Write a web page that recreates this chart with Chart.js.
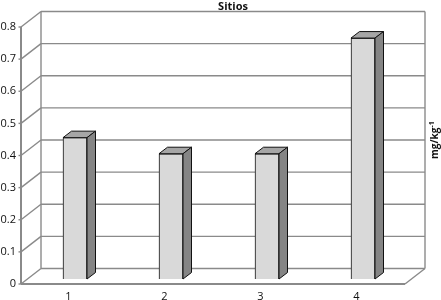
<!DOCTYPE html>
<html>
<head>
<meta charset="utf-8">
<style>
  html, body { margin: 0; padding: 0; background: #fff; }
  canvas { display: block; }
</style>
<script src="https://cdn.jsdelivr.net/npm/chart.js@4/dist/chart.umd.min.js"></script>
</head>
<body>
<canvas id="chart" width="441" height="300"></canvas>
<script>
const sitios = ["1", "2", "3", "4"];
const valores = [0.44, 0.39, 0.39, 0.75];
const yTicks = [0, 0.1, 0.2, 0.3, 0.4, 0.5, 0.6, 0.7, 0.8];

const gridColor = "#8a8a8a";
const fontName = "'Open Sans', 'Noto Sans', sans-serif";

// Desplazamiento de los planos respecto al plano de las barras
const front = { x: -6, y: 5 };
const back = { x: 14, y: -10.5 };
const barDepth = { x: 8.5, y: -6.5 };

const line = (ctx, x1, y1, x2, y2) => {
  ctx.beginPath();
  ctx.moveTo(x1, y1);
  ctx.lineTo(x2, y2);
  ctx.stroke();
};

const poly = (ctx, pts, fill) => {
  ctx.beginPath();
  pts.forEach((p, i) => (i ? ctx.lineTo(p[0], p[1]) : ctx.moveTo(p[0], p[1])));
  ctx.closePath();
  ctx.fillStyle = fill;
  ctx.fill();
  ctx.stroke();
};

// Caja 3D: paredes y rejilla, a partir de las escalas
const wallsPlugin = {
  id: "walls",
  afterLayout(chart) {
    chart.titleBlock.left += 27.5;
    chart.titleBlock.right += 27.5;
  },
  beforeDatasetsDraw(chart) {
    const { ctx, chartArea: area, scales: { y } } = chart;
    const fl = area.left + front.x, fr = area.right + front.x;
    const bl = area.left + back.x, br = area.right + back.x;
    ctx.save();
    ctx.strokeStyle = gridColor;
    ctx.lineWidth = 1.4;
    yTicks.forEach((v) => {
      const py = y.getPixelForValue(v);
      const fy = py + front.y, by = py + back.y;
      line(ctx, fl - 2.5, fy, fl, fy);
      line(ctx, fl, fy, bl, by);
      line(ctx, bl, by, br, by);
    });
    const y0 = y.getPixelForValue(0), y8 = y.getPixelForValue(0.8);
    line(ctx, bl, y8 + back.y, bl, y0 + back.y);
    line(ctx, br, y8 + back.y, br, y0 + back.y);
    ctx.lineWidth = 2;
    line(ctx, fl, y8 + front.y, fl, y0 + front.y);
    line(ctx, fl, y0 + front.y, fr, y0 + front.y);
    ctx.lineWidth = 1.4;
    line(ctx, fr, y0 + front.y, br, y0 + back.y);
    ctx.restore();
  },
  // Cara superior y lateral de cada barra, y rótulo del eje derecho
  afterDatasetsDraw(chart) {
    const { ctx } = chart;
    ctx.save();
    ctx.strokeStyle = "#111";
    ctx.lineWidth = 1;
    ctx.lineJoin = "round";
    chart.getDatasetMeta(0).data.forEach((bar) => {
      const l = bar.x - bar.width / 2, r = bar.x + bar.width / 2;
      const dx = barDepth.x, dy = barDepth.y;
      poly(ctx, [[l, bar.y], [l + dx, bar.y + dy], [r + dx, bar.y + dy], [r, bar.y]], "#a6a6a6");
      poly(ctx, [[r, bar.y], [r + dx, bar.y + dy], [r + dx, bar.base + dy], [r, bar.base]], "#858585");
    });
    ctx.restore();

    ctx.save();
    ctx.translate(438, 159);
    ctx.rotate(-Math.PI / 2);
    ctx.fillStyle = "#111";
    ctx.textBaseline = "alphabetic";
    ctx.font = `bold 10px ${fontName}`;
    ctx.fillText("mg/kg", 0, 0);
    const w = ctx.measureText("mg/kg").width;
    ctx.font = `bold 7px ${fontName}`;
    ctx.fillText("-1", w, -4);
    ctx.restore();
  },
};

new Chart(document.getElementById("chart"), {
  type: "bar",
  data: {
    labels: sitios,
    datasets: [{
      data: valores,
      backgroundColor: "#d9d9d9",
      borderColor: "#111",
      borderWidth: 1,
      barThickness: 24,
    }],
  },
  options: {
    responsive: false,
    animation: false,
    layout: { padding: { right: 30 } },
    plugins: {
      legend: { display: false },
      tooltip: { enabled: false },
      title: {
        display: true,
        text: "Sitios",
        color: "#111",
        font: { family: fontName, size: 11, weight: "bold" },
        padding: { top: 0, bottom: 8.8 },
      },
    },
    scales: {
      x: {
        grid: { display: false },
        border: { display: false },
        ticks: { color: "#111", font: { family: fontName, size: 11 }, labelOffset: -6.5, padding: 3, maxRotation: 0 },
        afterFit: (s) => { s.height = 21; },
      },
      y: {
        min: 0,
        max: 0.8,
        grid: { display: false },
        border: { display: false },
        afterBuildTicks: (s) => { s.ticks = yTicks.map((value) => ({ value })); },
        ticks: { color: "#111", font: { family: fontName, size: 11 }, autoSkip: false, labelOffset: 5, padding: 3 },
        afterFit: (s) => { s.width = 27; },
      },
    },
  },
  plugins: [wallsPlugin],
});
</script>
</body>
</html>
